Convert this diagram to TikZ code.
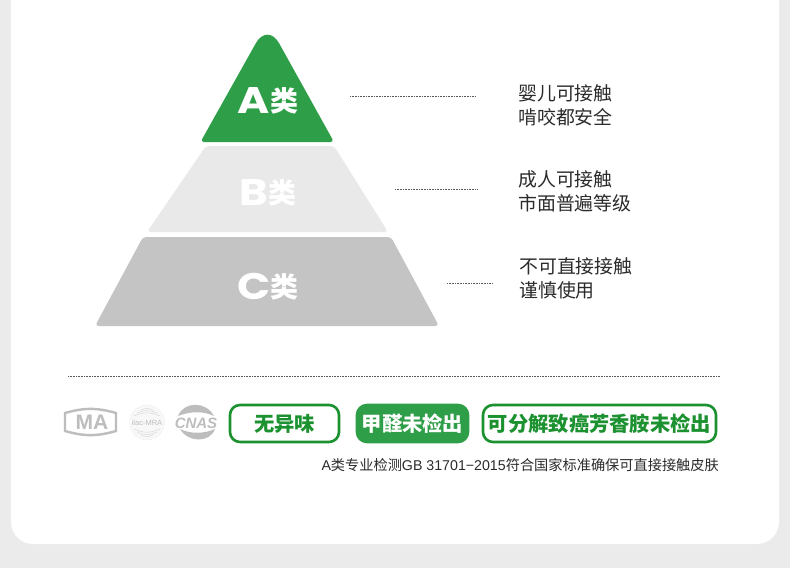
\documentclass[tikz,border=0pt]{standalone}
\usepackage{fontspec}
\usepackage{xcolor}
\setmainfont{Liberation Sans}
\newfontfamily\cjk{Noto Sans CJK SC}
\newfontfamily\capfont{Poppins}
\usetikzlibrary{arrows.meta, positioning, shapes.geometric, calc, fit}
\definecolor{pagegray}{HTML}{EBEBEB}
\definecolor{leafgreen}{HTML}{2E9E48}
\definecolor{rimgreen}{HTML}{1B9130}
\definecolor{tierb}{HTML}{E9E9E9}
\definecolor{tierc}{HTML}{C4C4C4}
\definecolor{logogray}{HTML}{BDBDBD}
\definecolor{inkgray}{HTML}{2B2B2B}
\newcommand{\tierlabel}[1]{\scalebox{1.18}[1]{\capfont\bfseries\fontsize{37}{37}\selectfont #1}\raisebox{1.5pt}{\cjk\bfseries\fontsize{28}{28}\selectfont 类}}

\begin{document}
\begin{tikzpicture}[
    x=1pt, y=-1pt,
    tier/.style={rounded corners=3.5pt},
    tiertext/.style={white, inner sep=0pt, anchor=base},
    note/.style={font=\cjk\fontsize{18.9}{24}\selectfont, text=inkgray, align=left, anchor=west, inner sep=0pt},
    leader/.style={densely dotted, line width=0.6pt, black!65},
    badge/.style={rectangle, draw=rimgreen, line width=2.6pt, rounded corners=10pt, inner sep=0pt,
                  text=rimgreen, font=\cjk\bfseries\fontsize{20.3}{21}\selectfont},
    logotext/.style={text=logogray, inner sep=0pt, font=\bfseries\fontsize{14}{14}\selectfont},
    sealarc/.style={logogray!60, line width=0.5pt}
]
    \useasboundingbox (0,0) rectangle (790,568);
    \fill[pagegray] (0,0) rectangle (790,568);
    \fill[white, rounded corners=22pt] (11,-40) rectangle (779,544);

    % pyramid
    \fill[leafgreen, tier] (267.5,142) -- (334,142) [rounded corners=24pt] -- (267.5,22.4)
        [rounded corners=3.5pt] -- (200.5,142) -- cycle;
    \fill[tierb, tier] (206,146) -- (334,146) -- (388,232) -- (147,232) -- cycle;
    \fill[tierc, tier] (143,237) -- (391,237) -- (439,326) -- (95,326) -- cycle;
    \node[tiertext] (tiera) at (268,113) {\tierlabel{A}};
    \node[tiertext] (tierbt) at (268,205) {\tierlabel{B}};
    \node[tiertext] (tierct) at (268,299) {\tierlabel{C}};

    % notes
    \node[note] (notea) at (518,105) {婴儿可接触\\啃咬都安全};
    \node[note] (noteb) at (518,191) {成人可接触\\市面普遍等级};
    \node[note] (notec) at (519,278) {不可直接接触\\谨慎使用};
    \coordinate (la) at (350,96);  \coordinate (lae) at (475,96);
    \coordinate (lb) at (395,189); \coordinate (lbe) at (477,189);
    \coordinate (lc) at (447,283); \coordinate (lce) at (492,283);
    \draw[leader] (la) -- (lae);
    \draw[leader] (lb) -- (lbe);
    \draw[leader] (lc) -- (lce);

    \coordinate (rulel) at (68,376); \coordinate (ruler) at (720,376);
    \draw[leader] (rulel) -- (ruler);

    % logos
    \draw[logogray, line width=2.4pt] (65,413) to[bend left=16] (116,413) -- (116,431) to[bend left=16] (65,431) -- cycle;
    \node[logotext, fill=white, font=\bfseries\fontsize{21}{21}\selectfont, inner xsep=2pt, inner ysep=1pt] (cma) at (92,422.5) {MA};
    \node[circle, draw=logogray!50, densely dotted, fill=logogray!10, minimum size=35pt, inner sep=0pt] (ilac) at (147,422.5) {};
    \draw[sealarc] (137,413) to[bend left=25] (157,413);
    \draw[sealarc] (134,416) to[bend left=25] (160,416);
    \draw[sealarc] (141,410) to[bend left=25] (153,410);
    \draw[sealarc] (137,432) to[bend right=25] (157,432);
    \draw[sealarc] (134,429) to[bend right=25] (160,429);
    \draw[sealarc] (141,435) to[bend right=25] (153,435);
    \node[logotext, text=logogray, font=\fontsize{7.5}{8}\selectfont] at (ilac) {ilac-MRA};
    \fill[logogray] (178,416) .. controls (184,401) and (206,401) .. (214,416)
        .. controls (204,411) and (190,411) .. (178,416) -- cycle;
    \fill[logogray] (180,429) .. controls (190,434) and (204,434) .. (215,429)
        .. controls (210,443) and (188,443) .. (180,429) -- cycle;
    \node[logotext, font=\bfseries\itshape\fontsize{15}{15}\selectfont] (cnas) at (196,423) {CNAS};

    % badges
    \node[badge, minimum width=109pt, minimum height=37pt] (odor) at (284.5,423.5) {无异味};
    \node[badge, fill=leafgreen, draw=leafgreen, text=white, minimum width=111pt, minimum height=37pt] (formal) at (412.5,423.5) {甲醛未检出};
    \node[badge, minimum width=233pt, minimum height=37pt] (azo) at (599.5,423.5) {可分解致癌芳香胺未检出};

    \node[inner sep=0pt, text=inkgray, font=\fontsize{14.2}{15}\selectfont, anchor=east] (foot) at (719,465)
        {A{\cjk 类专业检测}GB 31701−2015{\cjk 符合国家标准确保可直接接触皮肤}};
\end{tikzpicture}
\end{document}
